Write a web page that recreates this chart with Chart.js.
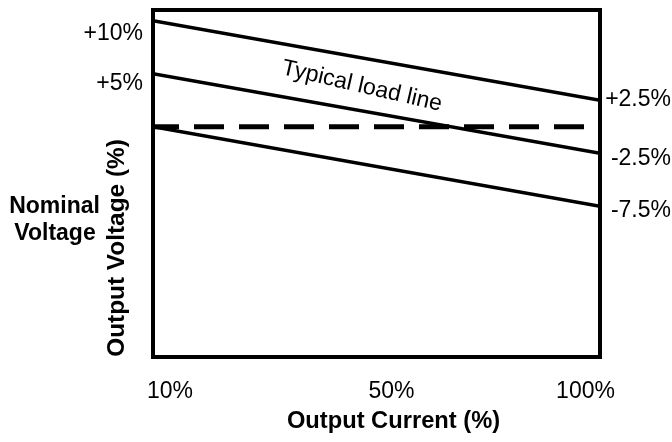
<!DOCTYPE html>
<html>
<head>
<meta charset="utf-8">
<script src="https://cdn.jsdelivr.net/npm/chart.js@4/dist/chart.umd.min.js"></script>
<style>
  html, body { margin: 0; padding: 0; background: #fff; }
  #c { display: block; }
</style>
</head>
<body>
<canvas id="c" width="672" height="442"></canvas>
<script>
// ---- data ----
const currentLabels = ['10%', '50%', '100%'];
const loadRange = [10, 100];          // output current at line ends (%)
const upperLimit = [10, 2.5];         // output voltage (%)
const typicalLoad = [5, -2.5];
const lowerLimit = [0, -7.5];
const nominalLevel = [0, 0];
const leftLabels = ['+10%', '+5%'];
const rightLabels = ['+2.5%', '-2.5%', '-7.5%'];
const nominalLabel = ['Nominal', 'Voltage'];
const xTitle = 'Output Current (%)';
const yTitle = 'Output Voltage (%)';
const lineLabel = 'Typical load line';

function pts(ys) { return loadRange.map((x, i) => ({ x: x, y: ys[i] })); }

const FONT = '"Liberation Sans", Arial, Helvetica, sans-serif';

const textPlugin = {
  id: 'schematicText',
  afterDatasetsDraw(chart) {
    const ctx = chart.ctx;
    const a = chart.chartArea;
    ctx.save();
    // frame
    ctx.strokeStyle = '#000';
    ctx.lineWidth = 4;
    ctx.strokeRect(a.left, a.top, a.right - a.left, a.bottom - a.top);

    ctx.fillStyle = '#000';
    ctx.textBaseline = 'alphabetic';
    ctx.font = '23px ' + FONT;

    // left labels
    ctx.textAlign = 'right';
    const leftBase = [40, 90];
    leftLabels.forEach((t, i) => ctx.fillText(t, a.left - 10, leftBase[i]));

    // right labels
    const rightBase = [105.5, 165, 217];
    rightLabels.forEach((t, i) => ctx.fillText(t, 671, rightBase[i]));

    // x tick labels
    ctx.textAlign = 'center';
    const tickX = [170, 391.5, 585.5];
    currentLabels.forEach((t, i) => ctx.fillText(t, tickX[i], 398));

    // bold labels
    ctx.font = 'bold 23px ' + FONT;
    ctx.fillText(nominalLabel[0], 54.5, 213);
    ctx.fillText(nominalLabel[1], 55, 240);
    ctx.font = 'bold 23.7px ' + FONT;
    ctx.fillText(xTitle, 393.5, 428);

    // y title
    ctx.font = 'bold 24.4px ' + FONT;
    ctx.save();
    ctx.translate(124, 248);
    ctx.rotate(-Math.PI / 2);
    ctx.fillText(yTitle, 0, 0);
    ctx.restore();

    // typical load line label
    ctx.font = '23px ' + FONT;
    ctx.save();
    ctx.translate(360.5, 92.5);
    ctx.rotate(13 * Math.PI / 180);
    ctx.fillText(lineLabel, 0, 0);
    ctx.restore();

    ctx.restore();
  }
};

const solid = { borderColor: '#000', borderWidth: 3.5, pointRadius: 0, fill: false, tension: 0 };

new Chart(document.getElementById('c'), {
  type: 'line',
  data: {
    datasets: [
      Object.assign({ label: 'Upper limit', data: pts(upperLimit) }, solid),
      Object.assign({ label: 'Typical load line', data: pts(typicalLoad) }, solid),
      Object.assign({ label: 'Lower limit', data: pts(lowerLimit) }, solid),
      { label: 'Nominal voltage', data: pts(nominalLevel), borderColor: '#000', borderWidth: 5,
        borderDash: [30, 15], borderDashOffset: 4, borderCapStyle: 'butt', pointRadius: 0, fill: false }
    ]
  },
  options: {
    responsive: false,
    animation: false,
    layout: { padding: { left: 153, right: 72, top: 10, bottom: 85 } },
    plugins: { legend: { display: false }, tooltip: { enabled: false } },
    scales: {
      x: { type: 'linear', min: loadRange[0], max: loadRange[1], display: false },
      y: { type: 'linear', min: -21.7, max: 11.0, display: false }
    }
  },
  plugins: [textPlugin]
});
</script>
</body>
</html>
